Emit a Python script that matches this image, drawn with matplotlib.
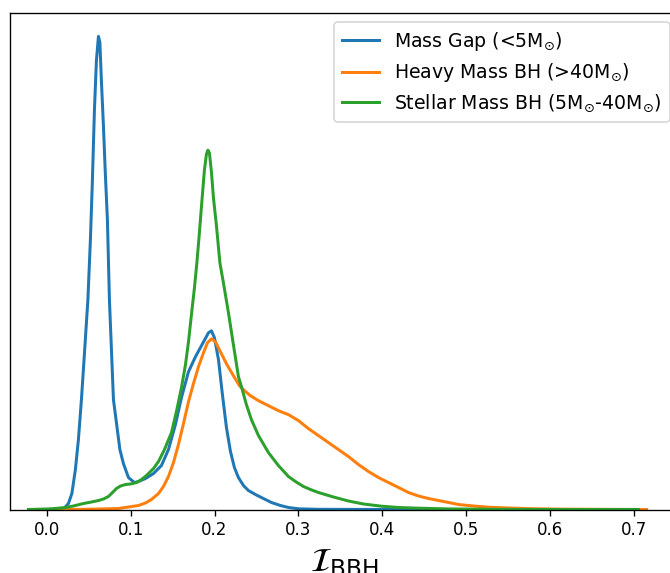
import matplotlib
matplotlib.use('Agg')
import matplotlib.pyplot as plt

# KDE curves of the BBH index for the three mass classes
gap_x = [-0.0125, 0.0137, 0.0209, 0.0257, 0.0298, 0.0340, 0.0376, 0.0412, 0.0447, 0.0489,
         0.0519, 0.0543, 0.0567, 0.0591, 0.0615, 0.0632, 0.0650, 0.0674, 0.0698, 0.0722,
         0.0746, 0.0794, 0.0871, 0.0913, 0.0973, 0.1044, 0.1092, 0.1175, 0.1271, 0.1366,
         0.1450, 0.1533, 0.1605, 0.1689, 0.1772, 0.1856, 0.1927, 0.1963, 0.1999, 0.2047,
         0.2094, 0.2142, 0.2190, 0.2237, 0.2285, 0.2345, 0.2404, 0.2488, 0.2583, 0.2679,
         0.2786, 0.2882, 0.3002, 0.3240, 0.4195, 0.5388, 0.6581, 0.6940]
gap_d = [0.0, 0.01, 0.075, 0.30, 0.80, 2.0, 3.5, 5.5, 7.75, 10.5,
         13.5, 16.5, 20.0, 22.5, 23.7, 23.4, 21.5, 19.25, 16.75, 14.5,
         10.5, 5.5, 3.0, 2.3, 1.6, 1.35, 1.4, 1.55, 1.8, 2.2,
         3.0, 4.25, 5.6, 6.9, 7.65, 8.3, 8.85, 8.95, 8.6, 7.5,
         5.75, 4.1, 2.9, 2.1, 1.6, 1.2, 0.95, 0.75, 0.55, 0.35,
         0.2, 0.1, 0.035, 0.01, 0.0, 0.0, 0.0, 0.0]

heavy_x = [0.0078, 0.0376, 0.0615, 0.0853, 0.0973, 0.1092, 0.1175, 0.1247, 0.1331, 0.1390,
           0.1450, 0.1510, 0.1569, 0.1629, 0.1689, 0.1748, 0.1808, 0.1868, 0.1915, 0.1963,
           0.2011, 0.2070, 0.2142, 0.2225, 0.2297, 0.2357, 0.2428, 0.2524, 0.2643, 0.2762,
           0.2882, 0.3002, 0.3120, 0.3240, 0.3359, 0.3479, 0.3598, 0.3717, 0.3837, 0.3956,
           0.4075, 0.4195, 0.4314, 0.4433, 0.4553, 0.4732, 0.4911, 0.5090, 0.5269, 0.5507,
           0.5782, 0.6104, 0.6581, 0.7154]
heavy_d = [0.0, 0.005, 0.025, 0.05, 0.125, 0.2, 0.325, 0.5, 0.8, 1.15,
           1.65, 2.35, 3.25, 4.3, 5.4, 6.3, 7.15, 7.85, 8.35, 8.55,
           8.4, 7.9, 7.3, 6.7, 6.2, 5.95, 5.7, 5.45, 5.2, 4.95,
           4.75, 4.45, 4.05, 3.7, 3.35, 3.0, 2.65, 2.25, 1.9, 1.6,
           1.35, 1.1, 0.85, 0.675, 0.55, 0.4, 0.25, 0.175, 0.115, 0.075,
           0.04, 0.02, 0.01, 0.0]

stellar_x = [-0.0221, -0.0101, 0.0018, 0.0137, 0.0221, 0.0316, 0.0436, 0.0531, 0.0615, 0.0674,
             0.0734, 0.0782, 0.0829, 0.0877, 0.0937, 0.1008, 0.1068, 0.1128, 0.1187, 0.1271,
             0.1331, 0.1402, 0.1486, 0.1545, 0.1605, 0.1653, 0.1689, 0.1724, 0.1760, 0.1790,
             0.1820, 0.1850, 0.1879, 0.1903, 0.1921, 0.1939, 0.1963, 0.1987, 0.2023, 0.2064,
             0.2106, 0.2166, 0.2225, 0.2285, 0.2321, 0.2380, 0.2440, 0.2524, 0.2643, 0.2762,
             0.2882, 0.2966, 0.3061, 0.3145, 0.3240, 0.3419, 0.3598, 0.3777, 0.3992, 0.4195,
             0.4397, 0.4791, 0.5388, 0.5985, 0.7058]
stellar_d = [0.0, 0.015, 0.025, 0.065, 0.1, 0.175, 0.3, 0.375, 0.45, 0.525,
             0.65, 0.85, 1.05, 1.175, 1.25, 1.285, 1.35, 1.5, 1.7, 2.05,
             2.4, 3.0, 3.85, 4.9, 6.1, 7.25, 8.4, 9.75, 11.1, 12.4,
             13.9, 15.5, 17.0, 17.8, 18.0, 17.85, 16.9, 15.6, 14.2, 12.35,
             11.35, 9.85, 8.25, 6.65, 6.15, 5.25, 4.5, 3.7, 2.85, 2.2,
             1.65, 1.4, 1.15, 1.0, 0.85, 0.625, 0.425, 0.275, 0.165, 0.1,
             0.07, 0.03, 0.01, 0.0, 0.0]

labels = ['Mass Gap (<5M$_{\\odot}$)',
          'Heavy Mass BH (>40M$_{\\odot}$)',
          'Stellar Mass BH (5M$_{\\odot}$-40M$_{\\odot}$)']

fig = plt.figure(figsize=(670 / 120, 573 / 120), dpi=120)
ax = fig.add_axes([10 / 670, 63.5 / 573, 669 / 670, 496.8 / 573])

ax.plot(gap_x, gap_d, color='tab:blue', lw=1.8, label=labels[0])
ax.plot(heavy_x, heavy_d, color='tab:orange', lw=1.8, label=labels[1])
ax.plot(stellar_x, stellar_d, color='tab:green', lw=1.8, label=labels[2])

ax.set_xlim(-0.044, 0.754)
ax.set_ylim(0, 1.05 * max(gap_d))
ax.set_yticks([])
ax.set_xticks([0.0, 0.1, 0.2, 0.3, 0.4, 0.5, 0.6, 0.7])
ax.set_xlabel(r'$\mathcal{I}_{\rm BBH}$', fontsize=20)
ax.legend(loc='upper right', fontsize=11.3, labelspacing=0.45)

fig.savefig('out.png', dpi=120)
